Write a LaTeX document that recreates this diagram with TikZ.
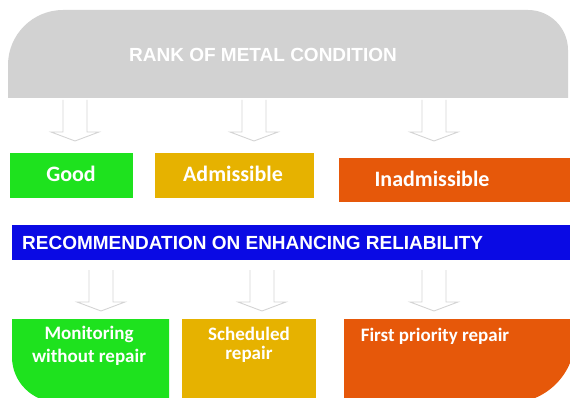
\documentclass[tikz,border=0pt]{standalone}
\usepackage{fontspec}
\setmainfont{Liberation Sans}
\newfontfamily\carl{Carlito}
\definecolor{topgray}{RGB}{210,210,210}
\definecolor{goodgreen}{RGB}{30,226,30}
\definecolor{admgold}{RGB}{230,178,0}
\definecolor{inadmorange}{RGB}{230,88,10}
\definecolor{recblue}{RGB}{10,10,228}
\definecolor{arrowgray}{RGB}{212,212,212}
\begin{document}
\begin{tikzpicture}[x=1pt,y=1pt,
  lbl/.style={text=white,inner sep=0pt,align=center},
  capfont/.style={font=\bfseries\fontsize{19}{19}\selectfont},
  midfont/.style={font=\carl\bfseries\fontsize{22}{22}\selectfont},
  lowfont/.style={font=\carl\bfseries\fontsize{19}{19}\selectfont},
  arrowline/.style={draw=arrowgray,line width=0.9pt,line join=miter},
  downarrow/.pic={\draw[arrowline] (-12,0) -- (-12,-32) -- (-24,-32) -- (0,-41) -- (24,-32) -- (12,-32) -- (12,0);}]
\useasboundingbox (0,0) rectangle (570,-398);
% top banner
\fill[topgray] (8,-98) -- (8,-65) arc(180:90:55) -- (528,-10) arc(90:0:40) -- (568,-98) -- cycle;
\node[lbl,capfont] (title) at (263,-55) {RANK OF METAL CONDITION};
% arrows row 1
\pic at (75,-100) {downarrow};
\pic at (254,-100) {downarrow};
\pic at (434,-100) {downarrow};
% condition boxes
\fill[goodgreen] (10,-153) rectangle (133,-198);
\fill[admgold] (155,-153) rectangle (314,-198);
\fill[inadmorange] (339,-158) rectangle (575,-202);
\node[lbl,midfont] (good) at (71,-174) {Good};
\node[lbl,midfont] (adm) at (233,-174) {Admissible};
\node[lbl,midfont] (inadm) at (432,-179) {Inadmissible};
% recommendation bar
\fill[recblue] (12,-225) rectangle (575,-260);
\node[lbl,capfont,anchor=west] (rec) at (22,-242.5) {RECOMMENDATION ON ENHANCING RELIABILITY};
% arrows row 2
\pic at (101,-270) {downarrow};
\pic at (262,-270) {downarrow};
\pic at (434,-270) {downarrow};
% bottom boxes
\fill[goodgreen] (12,-319) -- (169,-319) -- (169,-402) -- (57,-402) arc(270:180:45) -- cycle;
\fill[admgold] (182,-319) rectangle (316,-402);
\fill[inadmorange] (344,-319) -- (575,-319) -- (575,-338) arc(0:-90:65) -- (344,-403) -- cycle;
\node[lbl,lowfont] (mon) at (89,-346) {Monitoring\\[4pt]without repair};
\node[lbl,lowfont] (sched) at (249,-345) {Scheduled\\[0pt]repair};
\node[lbl,lowfont] (first) at (435,-336) {First priority repair};
\end{tikzpicture}
\end{document}
